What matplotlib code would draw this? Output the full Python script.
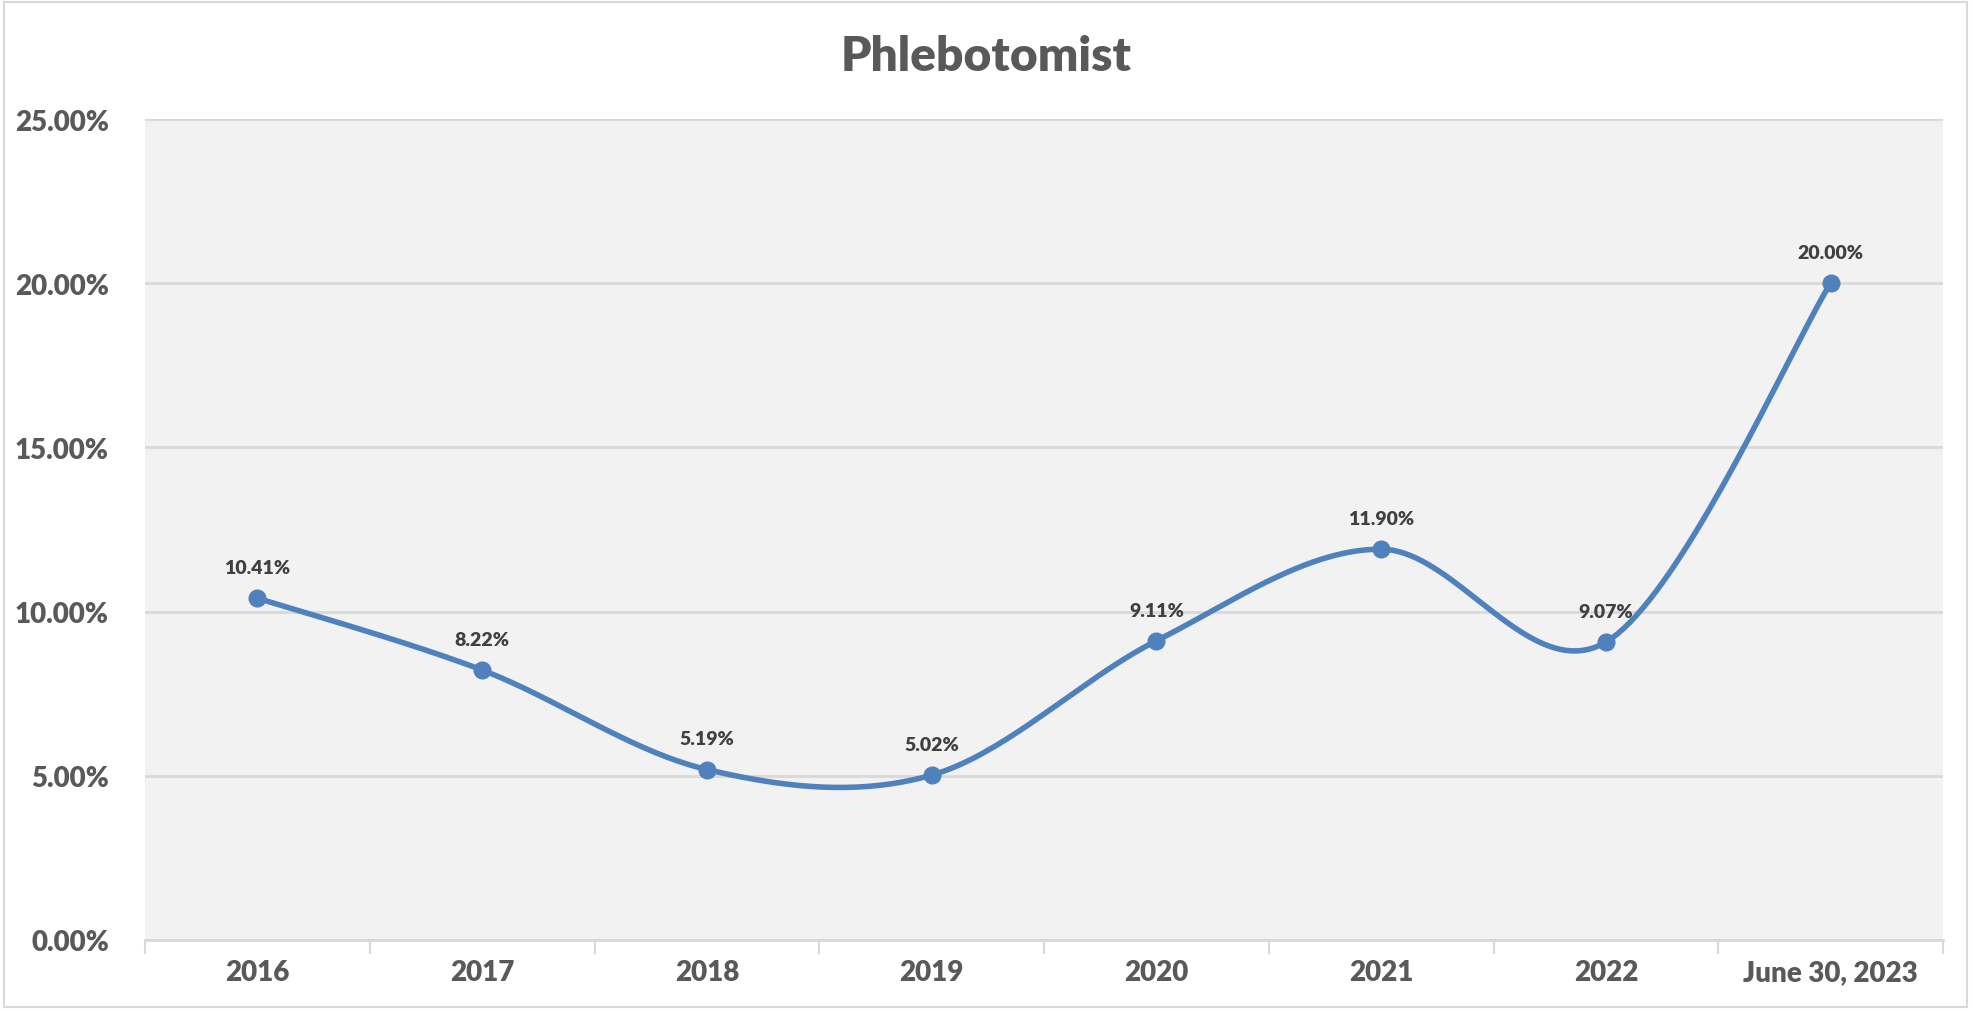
import matplotlib
matplotlib.use("Agg")
import matplotlib.pyplot as plt
from matplotlib.patches import Rectangle
from matplotlib.ticker import FuncFormatter
import numpy as np

categories = ['2016', '2017', '2018', '2019', '2020', '2021', '2022', 'June 30, 2023']
values = [10.41, 8.22, 5.19, 5.02, 9.11, 11.90, 9.07, 20.00]
yticks = [0, 5, 10, 15, 20, 25]

plt.rcParams['font.family'] = ['Lato', 'DejaVu Sans']


def smooth_line(x, y, steps=40):
    # excel-style smoothing: cubic bezier with catmull-rom control points
    x = np.asarray(x, float)
    y = np.asarray(y, float)
    px = np.concatenate([[x[0]], x, [x[-1]]])
    py = np.concatenate([[y[0]], y, [y[-1]]])
    xs, ys = [], []
    t = np.linspace(0, 1, steps)
    for i in range(1, len(px) - 2):
        p0 = np.array([px[i], py[i]])
        p3 = np.array([px[i + 1], py[i + 1]])
        p1 = p0 + (np.array([px[i + 1], py[i + 1]]) - np.array([px[i - 1], py[i - 1]])) / 6
        p2 = p3 - (np.array([px[i + 2], py[i + 2]]) - np.array([px[i], py[i]])) / 6
        b = ((1 - t) ** 3)[:, None] * p0 + (3 * (1 - t) ** 2 * t)[:, None] * p1 \
            + (3 * (1 - t) * t ** 2)[:, None] * p2 + (t ** 3)[:, None] * p3
        xs.extend(b[:, 0])
        ys.extend(b[:, 1])
    return np.array(xs), np.array(ys)


fig = plt.figure(figsize=(19.73, 10.12), dpi=100)
fig.patches.append(Rectangle((0.002, 0.004), 0.995, 0.993, transform=fig.transFigure,
                             fill=False, edgecolor='#D9D9D9', linewidth=1.5))
ax = fig.add_axes([0.0735, 0.0702, 0.9113, 0.8112])
ax.set_facecolor('#F2F2F2')

x = np.arange(len(categories))
sx, sy = smooth_line(x, values)
ax.plot(sx, sy, color='#4F81BD', linewidth=4, solid_capstyle='round', zorder=3)
ax.plot(x, values, 'o', color='#4F81BD', markersize=12, zorder=4)

for xi, v in zip(x, values):
    ax.annotate(f'{v:.2f}%', (xi, v), xytext=(0, 22), textcoords='offset points',
                ha='center', va='center', fontsize=14, fontweight='heavy', color='#404040')

ax.set_xlim(-0.5, len(categories) - 0.5)
ax.set_ylim(0, 25)
ax.set_yticks(yticks)
ax.yaxis.set_major_formatter(FuncFormatter(lambda v, p: f'{v:.2f}%'))
ax.grid(axis='y', color='#D9D9D9', linewidth=2)
ax.set_axisbelow(True)

ax.set_xticks(x)
ax.set_xticklabels(categories)
ax.set_xticks(np.arange(-0.5, len(categories)), minor=True)
ax.tick_params(axis='x', which='major', length=0, pad=14)
ax.tick_params(axis='x', which='minor', length=10, color='#D9D9D9', width=1.5)
ax.tick_params(axis='y', length=0, pad=26)
for lab in ax.get_xticklabels() + ax.get_yticklabels():
    lab.set_fontsize(20)
    lab.set_fontweight('heavy')
    lab.set_color('#595959')

for s in ['top', 'right', 'left']:
    ax.spines[s].set_visible(False)
ax.spines['bottom'].set_color('#D9D9D9')
ax.spines['bottom'].set_linewidth(2)

fig.text(0.5, 0.944, 'Phlebotomist', ha='center', va='center', fontsize=34.5,
         fontweight='heavy', color='#595959')

fig.savefig('out.png', dpi=100, facecolor='white')
